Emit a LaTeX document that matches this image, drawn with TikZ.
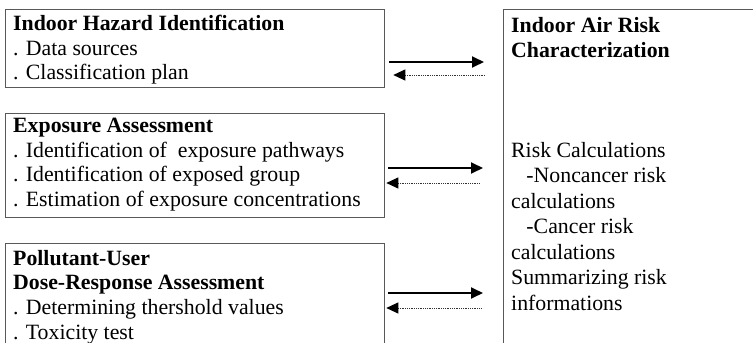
\documentclass[tikz,border=0pt]{standalone}
\usepackage{fontspec}
\setmainfont{Liberation Serif}
\usetikzlibrary{arrows.meta}
\begin{document}
\begin{tikzpicture}[x=1pt,y=-1pt,
  box/.style={draw=black!65, line width=1.3pt, inner sep=0pt, anchor=north west},
  txt/.style={anchor=north west, inner sep=0pt, align=left, font=\fontsize{21.8}{24.6}\selectfont},
  rtxt/.style={anchor=north west, inner sep=0pt, align=left, font=\fontsize{21.8}{25.5}\selectfont},
  fwd/.style={line width=1.8pt, -{Triangle[length=12pt,width=11pt]}},
  back/.style={line width=1pt, black!80, dash pattern=on 1pt off 0.8pt, {Triangle[length=12pt,width=11pt,color=black]}-}
]
\useasboundingbox (0,0) rectangle (753,343);
% boxes
\node[box, minimum width=379pt, minimum height=78pt] (b1) at (5,9) {};
\node[box, minimum width=379pt, minimum height=104pt] (b2) at (5,113) {};
\node[box, minimum width=379pt, minimum height=140pt] (b3) at (5,243) {};
\node[box, minimum width=280pt, minimum height=360pt] (b4) at (503,9) {};
% texts
\node[txt] (t1) at (13,15) {\textbf{Indoor Hazard Identification}\\. Data sources\\. Classification plan};
\node[txt] (t2) at (13,118) {\textbf{Exposure Assessment}\\. Identification of\ \ exposure pathways\\. Identification of exposed group\\. Estimation of exposure concentrations};
\node[txt] (t3) at (13,250) {\textbf{Pollutant-User}\\\textbf{Dose-Response Assessment}\\. Determining thershold values\\. Toxicity test};
\node[rtxt] (t4) at (511,17) {\textbf{Indoor Air Risk}\\\textbf{Characterization}};
\node[rtxt] (t5) at (511,142) {Risk Calculations\\\hspace*{0.7em}-Noncancer risk\\calculations\\\hspace*{0.7em}-Cancer risk\\calculations\\Summarizing risk\\informations};
% rows
\coordinate (r1s) at (0,62);  \coordinate (r1d) at (0,75);
\coordinate (r2s) at (0,168); \coordinate (r2d) at (0,183);
\coordinate (r3s) at (0,293); \coordinate (r3d) at (0,308);
\draw[fwd, shorten <=4pt, shorten >=19pt] (b1.east |- r1s) -- (b4.west |- r1s);
\draw[back, shorten <=8pt, shorten >=17pt] (b1.east |- r1d) -- (b4.west |- r1d);
\draw[fwd, shorten <=3pt, shorten >=20pt] (b2.east |- r2s) -- (b4.west |- r2s);
\draw[back, shorten <=1pt, shorten >=23pt] (b2.east |- r2d) -- (b4.west |- r2d);
\draw[fwd, shorten <=3pt, shorten >=20pt] (b3.east |- r3s) -- (b4.west |- r3s);
\draw[back, shorten <=1pt, shorten >=22pt] (b3.east |- r3d) -- (b4.west |- r3d);
\end{tikzpicture}
\end{document}
